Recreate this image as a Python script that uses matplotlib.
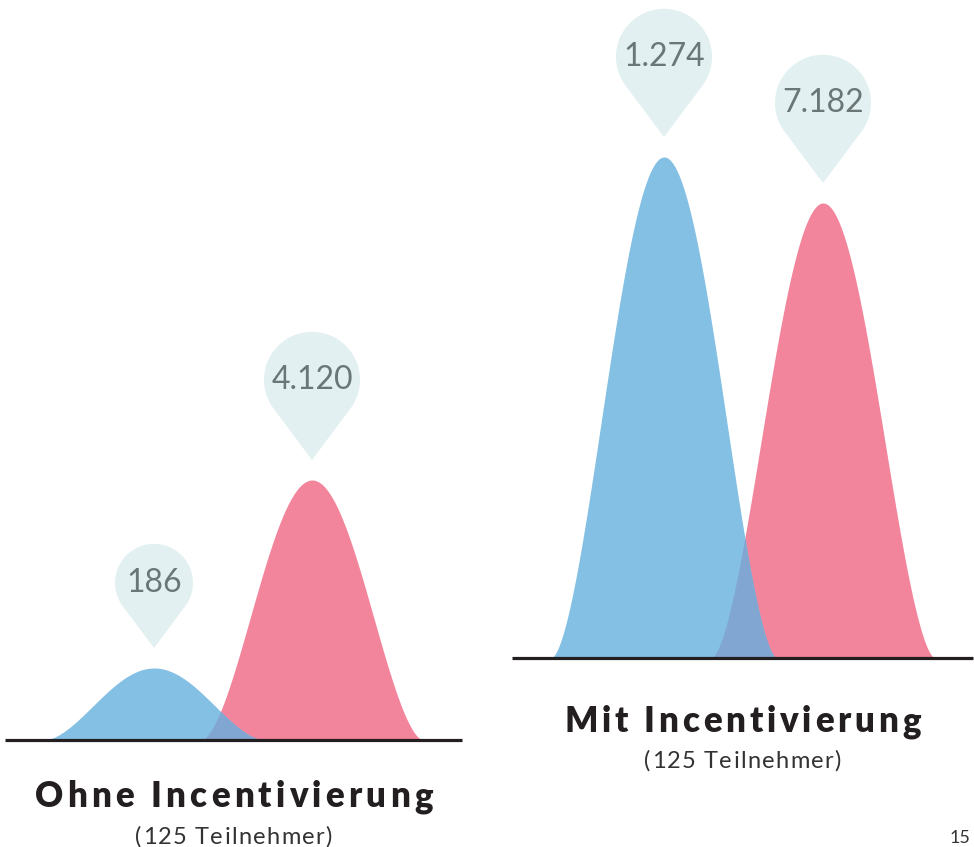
import numpy as np
import matplotlib.pyplot as plt

plt.rcParams['font.family'] = ['Lato', 'DejaVu Sans']

titel = ["Ohne Incentivierung", "Mit Incentivierung"]
untertitel = ["(125 Teilnehmer)", "(125 Teilnehmer)"]
werte_blau = [186, 1274]
werte_rot = [4120, 7182]
hoehe_blau = [72, 501]
hoehe_rot = [260, 455]
mitte_blau = [149, 152]
mitte_rot = [307, 311]
breite_blau = [110, 113]
breite_rot = [111, 112]

BLAU = '#84bfe4'
ROT = '#f2849b'
MISCH = '#82a6d2'
PIN = '#e2f0f1'
PINTEXT = '#6b7777'
DUNKEL = '#231f20'

# panel layout in pixel: x0, baseline y, breite, titel-grundlinie, untertitel-grundlinie
layout = [(5, 740, 457, 67, 104), (512, 658, 461, 74, 110)]
# ziel-textbreiten in pixel (titel, untertitel)
textbreite = [(398, 197), (356, 197)]


def fmt(v):
    return f"{v:,}".replace(",", ".")


def buckel(x, c, w, h):
    u = np.clip((x - c) / w, -1, 1)
    return h * ((1 + np.cos(np.pi * u)) / 2) ** 0.85


def breite(s, **kw):
    r = fig.canvas.get_renderer()
    t = fig.text(0, 0, s, **kw)
    b = t.get_window_extent(r).width
    t.remove()
    return b


def gesperrt(ax, x, y, s, ziel, **kw):
    # text mit zeichenabstand auf zielbreite, achsen-einheiten == pixel
    ref = breite('|', **kw)
    nat = breite(s, **kw)
    abstand = max(0, (ziel - nat) / (len(s) - 1))
    start = x - (nat + abstand * (len(s) - 1)) / 2
    for k, ch in enumerate(s):
        if ch == ' ':
            continue
        off = breite(s[:k] + '|', **kw) - ref if k else 0
        ax.text(start + off + k * abstand, y, ch, ha='left', va='baseline',
                clip_on=False, **kw)


def pin(ax, x, y_tip, text):
    r = 39 if len(text) < 4 else 48
    d = 1.67 * r
    cy = y_tip + d
    a = np.arccos(r / d)
    th = np.linspace(-np.pi / 2 + a, 3 * np.pi / 2 - a, 200)
    xs = np.concatenate([[x], x + r * np.cos(th), [x]])
    ys = np.concatenate([[y_tip], cy + r * np.sin(th), [y_tip]])
    ax.fill(xs, ys, color=PIN, lw=0, clip_on=False, zorder=3)
    ax.text(x, cy, text, ha='center', va='center', fontsize=23,
            color=PINTEXT, zorder=4)


fig = plt.figure(figsize=(9.74, 8.47), dpi=100)

for i in range(2):
    x0, base, w, dt, du = layout[i]
    ax = fig.add_axes([x0 / 974, (847 - base) / 847, w / 974, base / 847])
    ax.set_xlim(0, w)
    ax.set_ylim(0, base)
    ax.axis('off')

    x = np.linspace(0, w, 1500)
    yb = buckel(x, mitte_blau[i], breite_blau[i], hoehe_blau[i])
    yr = buckel(x, mitte_rot[i], breite_rot[i], hoehe_rot[i])
    ax.fill_between(x, 0, yr, color=ROT, lw=0)
    ax.fill_between(x, 0, yb, color=BLAU, lw=0)
    ax.fill_between(x, 0, np.minimum(yb, yr), color=MISCH, lw=0)
    ax.plot([0, w], [0, 0], lw=2.3, color=DUNKEL, clip_on=False,
            solid_capstyle='butt', zorder=5)

    pin(ax, mitte_blau[i], hoehe_blau[i] + 20, fmt(werte_blau[i]))
    pin(ax, mitte_rot[i], hoehe_rot[i] + 20, fmt(werte_rot[i]))

    gesperrt(ax, w / 2, -dt, titel[i], textbreite[i][0], fontsize=25,
             fontweight='heavy', color=DUNKEL)
    gesperrt(ax, w / 2, -du, untertitel[i], textbreite[i][1], fontsize=17,
             color='#333333')

fig.text(960 / 974, 1 - 838 / 847, "15", ha='center', va='center',
         fontsize=13, color='#333333')

fig.savefig('out.png', dpi=100)
